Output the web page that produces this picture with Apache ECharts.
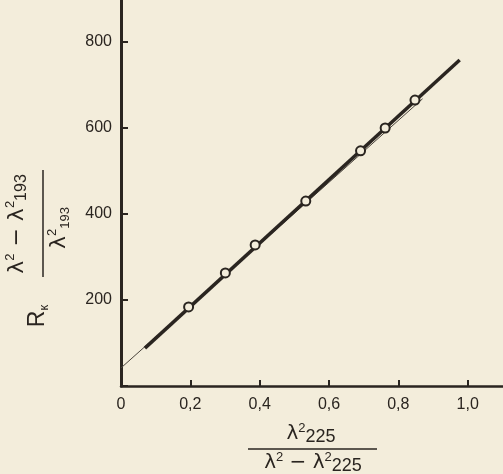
<!DOCTYPE html>
<html>
<head>
<meta charset="utf-8">
<script src="https://cdn.jsdelivr.net/npm/echarts@6/dist/echarts.min.js"></script>
<style>
  html, body { margin: 0; padding: 0; background: #f3eddb; width: 503px; height: 474px; overflow: hidden; position: relative; }
  /* the chart area is larger than the page so the axes run past its edges */
  #chart { position: absolute; left: 0; top: -44px; width: 540px; height: 518px; }
</style>
</head>
<body>
<div id="chart"></div>
<script>
// Measured points: x = λ²225 / (λ² − λ²225), y = R_к (λ² − λ²193) / λ²193
const xPoints = [0.195, 0.301, 0.387, 0.533, 0.691, 0.762, 0.848];
const yPoints = [184, 263, 328, 430, 547, 600, 665];

// Drawn straight line through the points (thick) and the thin guide line beside it
const fitLineX = [0.069, 0.977];
const fitLineY = [88, 758];
const guideLineX = [0, 0.87];
const guideLineY = [42, 668];

// Tick labels
const xLabelValues = [0, 0.2, 0.4, 0.6, 0.8, 1.0];
const xLabelText = ['0', '0,2', '0,4', '0,6', '0,8', '1,0'];
const yLabelValues = [200, 400, 600, 800];
const yLabelText = ['200', '400', '600', '800'];

const ink = '#2a2520';
const paper = '#f3eddb';

const pairs = (xs, ys) => xs.map((x, i) => [x, ys[i]]);
const pick = (values, texts, v) => {
  const i = values.findIndex(t => Math.abs(t - v) < 1e-6);
  return i < 0 ? '' : texts[i];
};

const chart = echarts.init(document.getElementById('chart'), null, { renderer: 'canvas' });

const labelFont = { fontFamily: 'Liberation Sans', fontSize: 16, color: ink };
const dy = 44; // chart area offset above the page

chart.setOption({
  backgroundColor: paper,
  animation: false,
  grid: { left: 121, right: 0, top: 0, bottom: 88, containLabel: false },
  xAxis: {
    type: 'value', min: 0, max: 1.2, interval: 0.2,
    axisLine: { show: true, onZero: false, lineStyle: { color: ink, width: 2.5 } },
    axisTick: { show: true, inside: true, length: 6, lineStyle: { color: ink, width: 2 } },
    axisLabel: Object.assign({ margin: 11, showMinLabel: true,
      formatter: v => pick(xLabelValues, xLabelText, v) }, labelFont),
    splitLine: { show: false }
  },
  yAxis: {
    type: 'value', min: 0, max: 1000, interval: 200,
    axisLine: { show: true, onZero: false, lineStyle: { color: ink, width: 3 } },
    axisTick: { show: true, inside: true, length: 7, lineStyle: { color: ink, width: 2 } },
    axisLabel: Object.assign({ margin: 9,
      formatter: v => pick(yLabelValues, yLabelText, v) }, labelFont),
    splitLine: { show: false }
  },
  series: [
    {
      type: 'line', data: pairs(guideLineX, guideLineY), symbol: 'none',
      lineStyle: { color: '#4a443c', width: 1 }, z: 2
    },
    {
      type: 'line', data: pairs(fitLineX, fitLineY), symbol: 'none',
      lineStyle: { color: ink, width: 3.5 }, z: 3
    },
    {
      type: 'scatter', data: pairs(xPoints, yPoints), symbol: 'circle', symbolSize: 9,
      itemStyle: { color: paper, borderColor: ink, borderWidth: 2, opacity: 1 }, z: 4
    }
  ],
  graphic: [
    // vertical axis title, read bottom to top
    {
      type: 'group', x: 43, y: 240 + dy, rotation: Math.PI / 2,
      children: [
        { type: 'text', x: -76, y: -5, style: {
            text: '{r|R}{k|к}', textAlign: 'center', textVerticalAlign: 'middle', fill: ink,
            rich: {
              r: { fontFamily: 'Liberation Sans', fontSize: 23, lineHeight: 26, fill: ink },
              k: { fontFamily: 'Liberation Sans', fontSize: 13, lineHeight: 13, verticalAlign: 'bottom', fill: ink }
            } } },
        { type: 'text', x: 16, y: -13, style: {
            text: '{l|λ}{s|2}{l| − λ}{s|2}{b|193}', textAlign: 'center', textVerticalAlign: 'bottom', fill: ink,
            rich: {
              l: { fontFamily: 'DejaVu Sans', fontSize: 22, lineHeight: 26, fill: ink },
              s: { fontFamily: 'Liberation Sans', fontSize: 13, lineHeight: 13, verticalAlign: 'top', fill: ink },
              b: { fontFamily: 'Liberation Sans', fontSize: 16, lineHeight: 16, verticalAlign: 'bottom', fill: ink }
            } } },
        { type: 'line', shape: { x1: -37, y1: 0, x2: 70, y2: 0 }, style: { stroke: ink, lineWidth: 1.5 } },
        { type: 'text', x: 12, y: 3, style: {
            text: '{l|λ}{s|2}{b|193}', textAlign: 'center', textVerticalAlign: 'top', fill: ink,
            rich: {
              l: { fontFamily: 'DejaVu Sans', fontSize: 22, lineHeight: 26, fill: ink },
              s: { fontFamily: 'Liberation Sans', fontSize: 13, lineHeight: 13, verticalAlign: 'top', fill: ink },
              b: { fontFamily: 'Liberation Sans', fontSize: 13, lineHeight: 13, verticalAlign: 'bottom', fill: ink }
            } } }
      ]
    },
    // horizontal axis title
    { type: 'text', x: 311, y: 446 + dy, style: {
        text: '{l|λ}{s|2}{b|225}', textAlign: 'center', textVerticalAlign: 'bottom', fill: ink,
        rich: {
          l: { fontFamily: 'DejaVu Sans', fontSize: 20, lineHeight: 24, fill: ink },
          s: { fontFamily: 'Liberation Sans', fontSize: 13, lineHeight: 13, verticalAlign: 'top', fill: ink },
          b: { fontFamily: 'Liberation Sans', fontSize: 18, lineHeight: 18, verticalAlign: 'bottom', fill: ink }
        } } },
    { type: 'line', shape: { x1: 248, y1: 449 + dy, x2: 377, y2: 449 + dy }, style: { stroke: ink, lineWidth: 1.5 } },
    { type: 'text', x: 313, y: 451 + dy, style: {
        text: '{l|λ}{s|2}{l| − λ}{s|2}{b|225}', textAlign: 'center', textVerticalAlign: 'top', fill: ink,
        rich: {
          l: { fontFamily: 'DejaVu Sans', fontSize: 20, lineHeight: 24, fill: ink },
          s: { fontFamily: 'Liberation Sans', fontSize: 13, lineHeight: 13, verticalAlign: 'top', fill: ink },
          b: { fontFamily: 'Liberation Sans', fontSize: 18, lineHeight: 18, verticalAlign: 'bottom', fill: ink }
        } } }
  ]
});
</script>
</body>
</html>
